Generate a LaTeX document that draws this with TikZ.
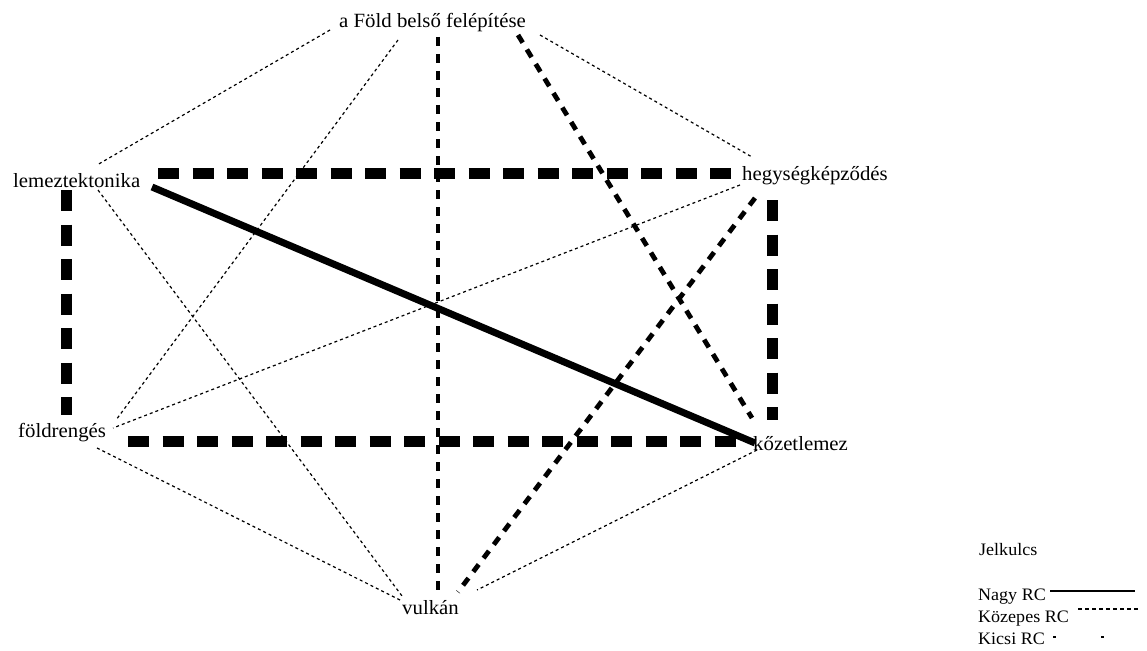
\documentclass[tikz,border=0pt]{standalone}
\usepackage{fontspec}
\setmainfont{Liberation Serif}
\newfontfamily\lblfont[FakeStretch=1.03]{Liberation Serif}
\begin{document}
\begin{tikzpicture}[x=1pt,y=-1pt,
  lbl/.style={inner sep=0pt, anchor=base west, font=\lblfont\fontsize{20.2}{23}\selectfont},
  keytext/.style={inner sep=0pt, anchor=base west, font=\lblfont\fontsize{17.5}{20}\selectfont},
  smallrc/.style={line width=1.2pt, dash pattern=on 3pt off 3pt},
  midrc/.style={line width=4.8pt, dash pattern=on 9pt off 8pt},
  bigdash/.style={line width=11pt, dash pattern=on 21pt off 13.5pt},
  bigrc/.style={line width=7pt}]
\useasboundingbox[fill=white] (0,0) rectangle (1147,650);

% concept labels
\node[lbl] (fold)  at (339,28)  {a Föld belső felépítése};
\node[lbl] (lemez) at (13,187)  {lemeztektonika};
\node[lbl] (hegy)  at (742,180) {hegységképződés};
\node[lbl] (rengs) at (18,437)  {földrengés};
\node[lbl] (kozet) at (753,450) {kőzetlemez};
\node[lbl] (vulk)  at (402,614) {vulkán};

% connection ports around the labels
\coordinate (fold-a) at (330,30);
\coordinate (fold-b) at (398,40);
\coordinate (fold-c) at (540,35);
\coordinate (fold-d) at (438,37);
\coordinate (fold-e) at (518,35);
\coordinate (lemez-a) at (97,165);
\coordinate (lemez-b) at (98,190);
\coordinate (lemez-c) at (158,173);
\coordinate (lemez-d) at (66,190);
\coordinate (lemez-e) at (152,187);
\coordinate (hegy-a) at (752,157);
\coordinate (hegy-b) at (740,185);
\coordinate (hegy-c) at (755,198);
\coordinate (hegy-d) at (735,173);
\coordinate (hegy-e) at (772,200);
\coordinate (rengs-a) at (116,420);
\coordinate (rengs-b) at (113,428);
\coordinate (rengs-c) at (97,448);
\coordinate (rengs-d) at (66,415);
\coordinate (rengs-e) at (128,441);
\coordinate (kozet-a) at (757,450);
\coordinate (kozet-b) at (752,418);
\coordinate (kozet-c) at (740,441);
\coordinate (kozet-d) at (772,420);
\coordinate (kozet-e) at (755,443);
\coordinate (vulk-a) at (402,596);
\coordinate (vulk-b) at (400,600);
\coordinate (vulk-c) at (477,590);
\coordinate (vulk-d) at (438,590);
\coordinate (vulk-e) at (458,592);

% small relations
\draw[smallrc] (fold-a) -- (lemez-a);
\draw[smallrc] (fold-b) -- (rengs-a);
\draw[smallrc] (fold-c) -- (hegy-a);
\draw[smallrc] (lemez-b) -- (vulk-a);
\draw[smallrc] (hegy-b) -- (rengs-b);
\draw[smallrc] (rengs-c) -- (vulk-b);
\draw[smallrc] (kozet-a) -- (vulk-c);

% medium relations
\draw[midrc] (fold-d) -- (vulk-d);
\draw[midrc] (fold-e) -- (kozet-b);
\draw[midrc] (hegy-c) -- (vulk-e);

% strong dashed frame
\draw[bigdash] (lemez-c) -- (hegy-d);
\draw[bigdash] (lemez-d) -- (rengs-d);
\draw[bigdash] (rengs-e) -- (kozet-c);
\draw[bigdash] (hegy-e) -- (kozet-d);

% large relation
\draw[bigrc] (lemez-e) -- (kozet-e);

% key
\node[keytext] (key)  at (979,555) {Jelkulcs};
\node[keytext] (knagy) at (978,600) {Nagy RC};
\node[keytext] (kkoz)  at (978,622) {Közepes RC};
\node[keytext] (kkic)  at (978,644) {Kicsi RC};
\coordinate (nagy-s) at (1050,591);
\coordinate (nagy-e) at (1135,591);
\coordinate (koz-s) at (1078,609);
\coordinate (koz-e) at (1140,609);
\coordinate (kic-s) at (1053,637);
\coordinate (kic-e) at (1104,637);
\draw[line width=1.2pt] (nagy-s) -- (nagy-e);
\draw[line width=1.2pt, dash pattern=on 4pt off 3pt] (koz-s) -- (koz-e);
\draw[line width=1.2pt, dash pattern=on 3pt off 45pt] (kic-s) -- (kic-e);
\end{tikzpicture}
\end{document}
